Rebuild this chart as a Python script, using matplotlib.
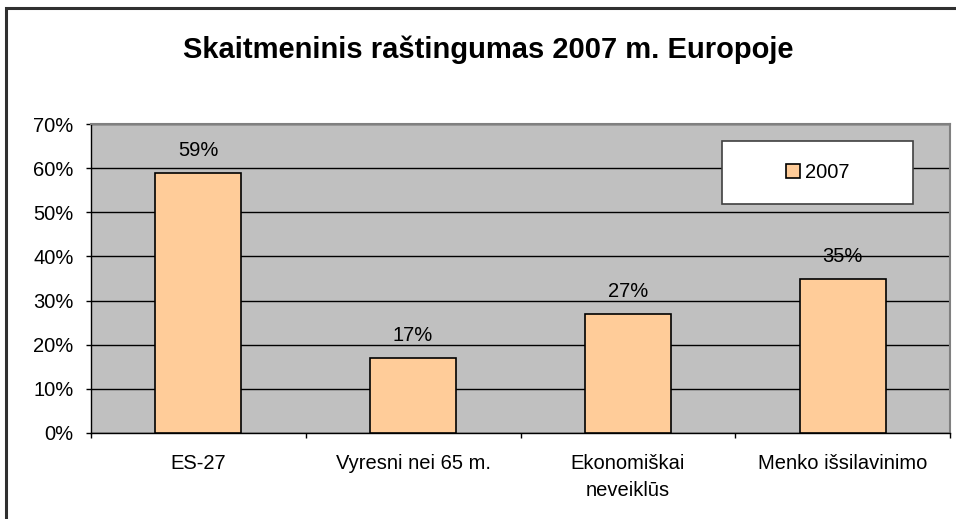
import matplotlib
matplotlib.use('Agg')
import matplotlib.pyplot as plt
from matplotlib.patches import Rectangle
import numpy as np

plt.rcParams['font.family'] = ['Liberation Sans', 'DejaVu Sans']

categories = ['ES-27', 'Vyresni nei 65 m.', 'Ekonomiškai\nneveiklūs', 'Menko išsilavinimo']
values = [59, 17, 27, 35]
series_name = '2007'
y_ticks = [0, 10, 20, 30, 40, 50, 60, 70]

bar_color = '#FFCC99'
plot_bg = '#C0C0C0'
fs = 14.5

fig = plt.figure(figsize=(9.56, 5.19), dpi=100)
fig.patch.set_facecolor('white')

# outer chart border (cut off at right and bottom in the original)
fig.add_artist(Rectangle((6 / 956, -0.1), 1.2, 1.1 - 8 / 519, transform=fig.transFigure,
                         fill=False, edgecolor='#303030', linewidth=2.2))

ax = fig.add_axes([91 / 956, 1 - 433 / 519, (950 - 91) / 956, (433 - 124) / 519])
ax.set_facecolor(plot_bg)

x = np.arange(len(categories))
bars = ax.bar(x, values, width=0.4, color=bar_color, edgecolor='black', linewidth=1.2, zorder=3)

for xi, v in zip(x, values):
    ax.annotate('%d%%' % v, (xi, v), xytext=(0, 12), textcoords='offset points',
                ha='center', va='baseline', fontsize=fs, zorder=4)

ax.set_xlim(-0.5, len(categories) - 0.5)
ax.set_ylim(0, 70)
ax.set_yticks(y_ticks)
ax.set_yticklabels(['%d%%' % t for t in y_ticks], fontsize=fs)
ax.yaxis.grid(True, color='black', linewidth=1.0, zorder=1)
ax.set_axisbelow(True)

# category ticks sit between the bars
ax.set_xticks(np.arange(len(categories) + 1) - 0.5)
ax.set_xticklabels([])
ax.set_xticks(x, minor=True)
ax.set_xticklabels(categories, minor=True, fontsize=fs, linespacing=1.55)
ax.tick_params(axis='x', which='minor', length=0, pad=15)
ax.tick_params(axis='both', which='major', direction='out', length=3.6, width=1, color='black')
ax.tick_params(axis='y', pad=9)

for side in ['top', 'right']:
    ax.spines[side].set_color('#808080')
    ax.spines[side].set_linewidth(1.5)
for side in ['left', 'bottom']:
    ax.spines[side].set_color('black')
    ax.spines[side].set_linewidth(1.0)

# legend box
lx0, lx1 = (722 - 91) / 859, (913 - 91) / 859
ly0, ly1 = (433 - 204) / 309, (433 - 141) / 309
ax.add_patch(Rectangle((lx0, ly0), lx1 - lx0, ly1 - ly0, transform=ax.transAxes,
                       facecolor='white', edgecolor='#404040', linewidth=1.2, zorder=5))
handle = Rectangle((0, 0), 1, 1, facecolor=bar_color, edgecolor='black', linewidth=1.2)
leg = ax.legend([handle], [series_name], loc='center',
                bbox_to_anchor=((lx0 + lx1) / 2, (ly0 + ly1) / 2),
                frameon=False, fontsize=fs, handlelength=0.7, handleheight=0.7,
                handletextpad=0.25, borderpad=0)
leg.set_zorder(6)

fig.text(488 / 956, 1 - 58 / 519, 'Skaitmeninis raštingumas 2007 m. Europoje',
         ha='center', va='baseline', fontsize=21, fontweight='bold')

fig.savefig('out.png', dpi=100)
